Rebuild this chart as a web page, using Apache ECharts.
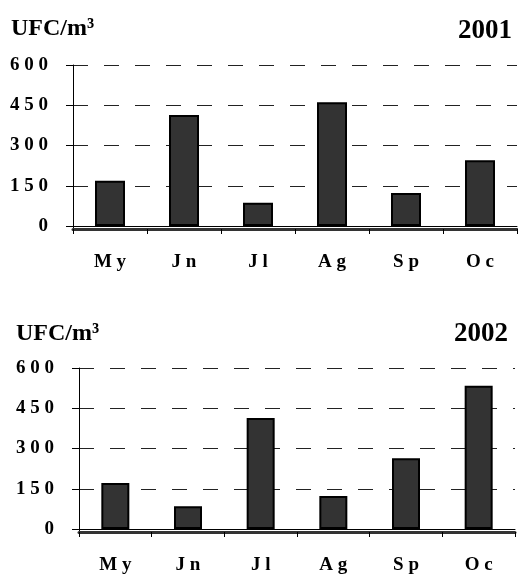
<!DOCTYPE html>
<html><head><meta charset="utf-8">
<script src="https://cdn.jsdelivr.net/npm/echarts@6/dist/echarts.min.js"></script>
<style>html,body{margin:0;padding:0;background:#fff}#c{width:518px;height:575px}</style>
</head><body><div id="c"></div>
<script>
const months = ['My','Jn','Jl','Ag','Sp','Oc'];
const values2001 = [169, 414, 87, 461, 123, 245];
const values2002 = [171, 85, 414, 123, 264, 534];
const yTicks = [0, 150, 300, 450, 600];
const unitLabel = 'UFC/m³';
const years = ['2001', '2002'];

const FONT = 'Liberation Serif';
const spaced = s => String(s).split('').join(' ');
const chart = echarts.init(document.getElementById('c'), null, {renderer: 'canvas'});

const grids = [
  {left: 73, right: 1, top: 65, height: 161},
  {left: 79, right: 3, top: 368, height: 161.5}
];
const barWidths = [30, 28];

function xAxes(gi) {
  return [
    {
      gridIndex: gi, type: 'category', data: months, position: 'bottom',
      axisLine: {show: true, lineStyle: {color: '#000', width: 1}},
      axisTick: {show: false},
      axisLabel: {formatter: v => spaced(v), color: '#000', fontFamily: FONT, fontWeight: 'bold', fontSize: 19, margin: 27}
    },
    {
      gridIndex: gi, type: 'category', data: months, position: 'bottom', offset: 3,
      axisLine: {show: true, lineStyle: {color: '#333', width: 3}},
      axisTick: {show: true, length: 5, lineStyle: {color: '#000', width: 1}},
      axisLabel: {show: false}
    }
  ];
}
function yAxis(gi) {
  return {
    gridIndex: gi, type: 'value', min: yTicks[0], max: yTicks[yTicks.length - 1],
    interval: yTicks[1] - yTicks[0],
    axisLine: {show: true, lineStyle: {color: '#000', width: 1}},
    axisTick: {show: true, length: 7, lineStyle: {color: '#000', width: 1}},
    axisLabel: {formatter: v => spaced(v), color: '#000', fontFamily: FONT, fontWeight: 'bold', fontSize: 19, margin: 25},
    splitLine: {show: true, lineStyle: {color: '#222', width: 1, type: [15, 16]}}
  };
}

const titleStyle = {fontFamily: FONT, fontWeight: 'bold', fontSize: 24, color: '#000'};
const yearStyle = {fontFamily: FONT, fontWeight: 'bold', fontSize: 27, color: '#000'};

const option = {
  animation: false,
  backgroundColor: '#fff',
  title: [
    {text: unitLabel, left: 11, top: 17, padding: 0, textStyle: titleStyle},
    {text: years[0], right: 6, top: 18, padding: 0, textStyle: yearStyle},
    {text: unitLabel, left: 16, top: 322, padding: 0, textStyle: titleStyle},
    {text: years[1], right: 10, top: 321, padding: 0, textStyle: yearStyle}
  ],
  grid: grids,
  xAxis: [...xAxes(0), ...xAxes(1)],
  yAxis: [yAxis(0), yAxis(1)],
  graphic: [
    {type: 'line', shape: {x1: 73.5, y1: 226, x2: 73.5, y2: 233}, style: {stroke: '#000', lineWidth: 1}},
    {type: 'line', shape: {x1: 79.5, y1: 529, x2: 79.5, y2: 536}, style: {stroke: '#000', lineWidth: 1}}
  ],
  series: [
    {type: 'bar', xAxisIndex: 0, yAxisIndex: 0, data: values2001, barWidth: barWidths[0],
     itemStyle: {color: '#333', borderColor: '#000', borderWidth: 2}},
    {type: 'bar', xAxisIndex: 2, yAxisIndex: 1, data: values2002, barWidth: barWidths[1],
     itemStyle: {color: '#333', borderColor: '#000', borderWidth: 2}}
  ]
};
chart.setOption(option);
</script>
</body></html>
